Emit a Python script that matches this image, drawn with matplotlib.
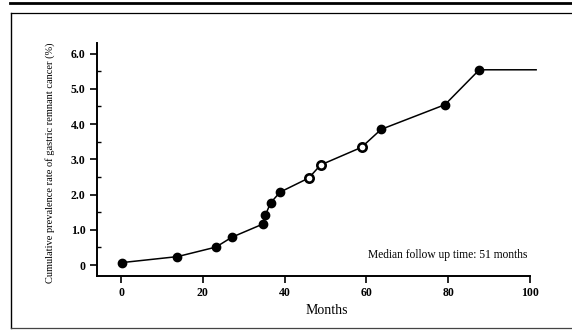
import matplotlib
matplotlib.use("Agg")
import matplotlib.pyplot as plt
from matplotlib.lines import Line2D
from matplotlib.ticker import MultipleLocator

months = [0.2, 13.8, 23.2, 27.1, 34.6, 35.3, 36.6, 38.9, 45.9, 48.8, 58.8, 63.6, 79.2, 87.6]
rate = [0.07, 0.24, 0.51, 0.79, 1.16, 1.42, 1.77, 2.07, 2.47, 2.84, 3.34, 3.85, 4.55, 5.54]
open_pts = [8, 9, 10]
end_month = 101.5

xticks = [0, 20, 40, 60, 80, 100]
yticks = [0, 1, 2, 3, 4, 5, 6]
ytick_labels = ["0", "1.0", "2.0", "3.0", "4.0", "5.0", "6.0"]

plt.rcParams['font.family'] = ['Liberation Serif', 'DejaVu Serif']

W, H = 572, 331
fig = plt.figure(figsize=(W / 100, H / 100), dpi=100)
ax = fig.add_axes([96.5 / W, (H - 276) / H, (530 - 96.5) / W, (276 - 43) / H])

ax.plot(months + [end_month], rate + [rate[-1]], color='black', lw=1.1, clip_on=False, zorder=2)
filled = [i for i in range(len(months)) if i not in open_pts]
ax.plot([months[i] for i in filled], [rate[i] for i in filled], 'o', color='black',
        ms=6, zorder=3)
ax.plot([months[i] for i in open_pts], [rate[i] for i in open_pts], 'o', mfc='white',
        mec='black', mew=1.9, ms=6, zorder=3)

ax.set_xlim(-6, 100)
ax.set_ylim(-0.31, 6.3)
ax.spines['top'].set_visible(False)
ax.spines['right'].set_visible(False)
for s in ['left', 'bottom']:
    ax.spines[s].set_linewidth(1.4)

ax.set_xticks(xticks)
ax.set_xticklabels([str(t) for t in xticks], fontsize=8.5, fontweight='bold')
ax.set_yticks(yticks)
ax.set_yticklabels(ytick_labels, fontsize=8.5, fontweight='bold')
ax.yaxis.set_minor_locator(MultipleLocator(0.5))
ax.tick_params(axis='both', which='major', direction='out', length=5, width=1.2, pad=3)
ax.tick_params(axis='y', which='minor', direction='in', length=3, width=1)

ax.set_xlabel("Months", fontsize=10)
ax.xaxis.set_label_coords((327 - 96.5) / (530 - 96.5), -(311 - 276) / (276 - 43), transform=ax.transAxes)
ax.xaxis.label.set_va('center')
ax.set_ylabel("Cumulative prevalence rate of gastric remnant cancer (%)", fontsize=7.5)
ax.yaxis.set_label_coords(-(96.5 - 50) / (530 - 96.5), (276 - 163) / (276 - 43), transform=ax.transAxes)
ax.yaxis.label.set_va('center')

ax.text(99.3, 0.12, "Median follow up time: 51 months", fontsize=8.3, ha='right', va='bottom')

# scanned page frame
def px_line(x0, y0, x1, y1, lw, color='black'):
    fig.add_artist(Line2D([x0 / W, x1 / W], [1 - y0 / H, 1 - y1 / H],
                          transform=fig.transFigure, color=color, lw=lw))

px_line(10, 3, 572, 3, 2.0)
px_line(11, 13, 572, 13, 0.9)
px_line(11, 13, 11, 328, 1.0)
px_line(11, 328, 572, 328, 0.9, color='#444444')

fig.savefig("out.png", dpi=100)
